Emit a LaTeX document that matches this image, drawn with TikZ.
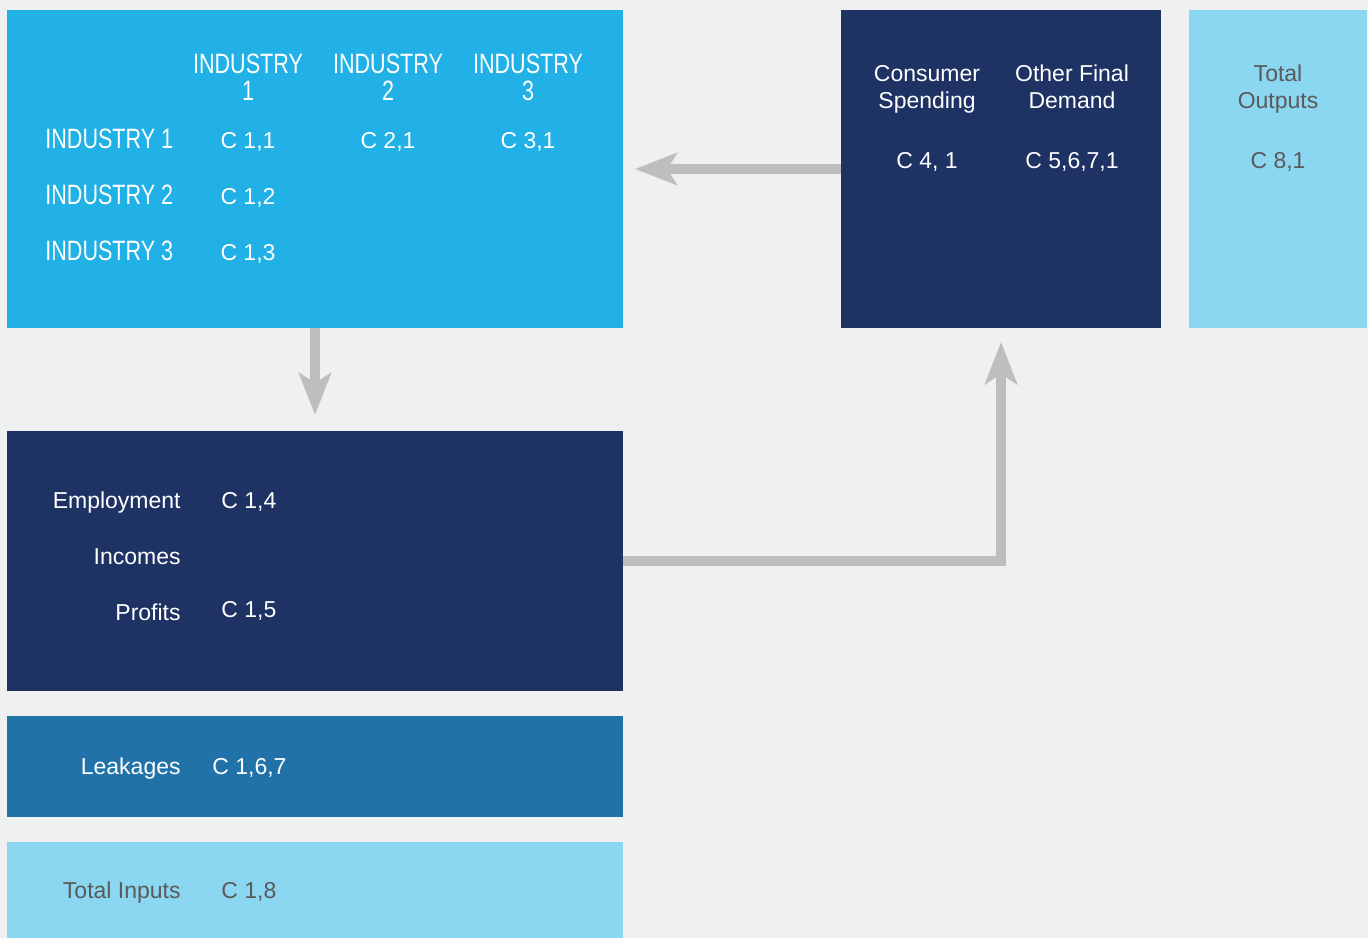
\documentclass[tikz,border=0pt]{standalone}
\usepackage{fontspec}
\setmainfont{Liberation Sans}
\newfontfamily\condfont[FakeStretch=0.77]{Liberation Sans}
\usetikzlibrary{arrows.meta}
\definecolor{bggray}{HTML}{EFF0F2}
\definecolor{cyanbox}{HTML}{21B1E6}
\definecolor{navybox}{HTML}{1E3264}
\definecolor{midbox}{HTML}{2072A8}
\definecolor{palebox}{HTML}{8BD6F0}
\definecolor{flowgray}{HTML}{BDBEC0}
\definecolor{txtgray}{HTML}{5A5A5A}

\begin{document}
\begin{tikzpicture}[x=0.5pt, y=-0.5pt,
    box/.style={inner sep=0, outer sep=0, anchor=north west, minimum height=159pt},
    hdr/.style={text=white, inner sep=0, anchor=base, align=center, font=\condfont\fontsize{14}{13.5}\selectfont},
    rowlbl/.style={text=white, inner sep=0, anchor=base west, font=\condfont\fontsize{14}{14}\selectfont},
    lbl/.style={inner sep=0, anchor=base, align=center, font=\fontsize{11.5}{13.5}\selectfont},
    flow/.style={draw=flowgray, line width=5pt, -{Stealth[length=21pt, width=16pt, inset=5pt]}}]
    \fill[bggray] (0,0) rectangle (1368,938);
    \useasboundingbox (0,0) rectangle (1368,938);
    % boxes
    \node[box, fill=cyanbox, minimum width=308pt] (inter) at (7,10) {};
    \node[box, fill=navybox, minimum width=160pt] (final) at (841,10) {};
    \node[box, fill=palebox, minimum width=89pt] (outputs) at (1189,10) {};
    \node[box, fill=navybox, minimum width=308pt, minimum height=130pt] (wages) at (7,431) {};
    \node[box, fill=midbox, minimum width=308pt, minimum height=50.5pt] (leak) at (7,716) {};
    \node[box, fill=palebox, minimum width=308pt, minimum height=48pt] (inputs) at (7,842) {};
    % intermediate table
    \node[hdr] (h1) at (248,100) {INDUSTRY\\1};
    \node[hdr] (h2) at (388,100) {INDUSTRY\\2};
    \node[hdr] (h3) at (528,100) {INDUSTRY\\3};
    \node[rowlbl] (r1) at (45,148) {INDUSTRY 1};
    \node[rowlbl] (r2) at (45,204) {INDUSTRY 2};
    \node[rowlbl] (r3) at (45,260) {INDUSTRY 3};
    \node[lbl, text=white] (c11) at (248,148) {C 1,1};
    \node[lbl, text=white] (c21) at (388,148) {C 2,1};
    \node[lbl, text=white] (c31) at (528,148) {C 3,1};
    \node[lbl, text=white] (c12) at (248,204) {C 1,2};
    \node[lbl, text=white] (c13) at (248,260) {C 1,3};
    % final demand
    \node[lbl, text=white] (cons) at (927,108) {Consumer\\Spending};
    \node[lbl, text=white] (other) at (1072,108) {Other Final\\Demand};
    \node[lbl, text=white] (c41) at (927,168) {C 4, 1};
    \node[lbl, text=white] (c5671) at (1072,168) {C 5,6,7,1};
    \node[lbl, text=txtgray] (tout) at (1278,108) {Total\\Outputs};
    \node[lbl, text=txtgray] (c81) at (1278,168) {C 8,1};
    % value added
    \node[lbl, text=white, anchor=base east] (emp) at (181,508) {Employment};
    \node[lbl, text=white, anchor=base east] (inc) at (181,564) {Incomes};
    \node[lbl, text=white, anchor=base east] (prof) at (181,620) {Profits};
    \node[lbl, text=white, anchor=base west] (c14) at (221,508) {C 1,4};
    \node[lbl, text=white, anchor=base west] (c15) at (221,617) {C 1,5};
    \node[lbl, text=white, anchor=base east] (lk) at (181,774) {Leakages};
    \node[lbl, text=white, anchor=base west] (c167) at (212,774) {C 1,6,7};
    \node[lbl, text=txtgray, anchor=base east] (tin) at (181,898) {Total Inputs};
    \node[lbl, text=txtgray, anchor=base west] (c18) at (221,898) {C 1,8};
    % flows
    \draw[flow, shorten >=6pt] (final.west) -- (inter.east);
    \draw[flow, shorten >=8pt] (inter.south) -- (wages.north);
    \draw[flow, shorten >=7pt] (wages.east) -| (final.south);
\end{tikzpicture}
\end{document}
